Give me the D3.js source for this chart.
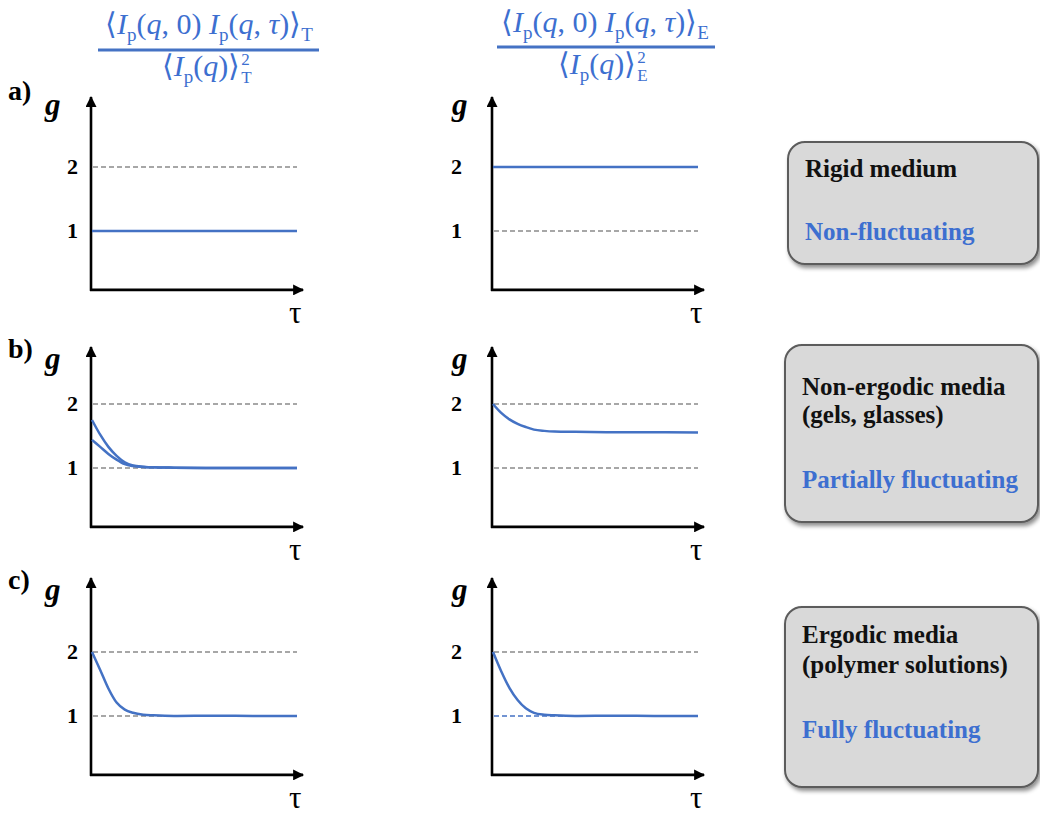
<!DOCTYPE html>
<html><head><meta charset="utf-8">
<script src="https://cdn.jsdelivr.net/npm/d3@7"></script>
<style>html,body{margin:0;padding:0;background:#fff;}</style>
</head><body>
<svg id="chart" width="1040" height="819"></svg>
<script>
// ---- data ----
const rowLabels = ["a)", "b)", "c)"];
const levelTicks = [1, 2];
const tau = [0, 0.4, 0.8, 1.2, 1.6, 2.0, 2.5, 3, 4, 6, 8, 10];
// time-averaged column (left)
const gT_rigid = [1, 1, 1, 1, 1, 1, 1, 1, 1, 1, 1, 1];
const gT_nonErgUpper = [1.75, 1.52, 1.33, 1.19, 1.09, 1.04, 1.02, 1.01, 1.005, 1.0, 1.0, 1.0];
const gT_nonErgLower = [1.44, 1.33, 1.22, 1.13, 1.06, 1.03, 1.015, 1.01, 1.005, 1.0, 1.0, 1.0];
const gT_ergodic = [2.0, 1.72, 1.43, 1.21, 1.1, 1.05, 1.02, 1.01, 1.0, 1.005, 1.0, 1.0];
// ensemble-averaged column (right)
const gE_rigid = [2, 2, 2, 2, 2, 2, 2, 2, 2, 2, 2, 2];
const gE_nonErg = [2.0, 1.86, 1.76, 1.69, 1.64, 1.60, 1.58, 1.57, 1.565, 1.56, 1.56, 1.555];
const gE_ergodic = [2.0, 1.7, 1.44, 1.25, 1.12, 1.05, 1.02, 1.01, 1.0, 1.005, 1.0, 1.0];
const boxTitles = [["Rigid medium"], ["Non-ergodic media", "(gels, glasses)"], ["Ergodic media", "(polymer solutions)"]];
const boxStates = ["Non-fluctuating", "Partially fluctuating", "Fully fluctuating"];

// ---- layout ----
const BLUE = "#4472c4";
const TXTBLUE = "#3d6fd0";
const SERIF = "'Liberation Serif','Times New Roman',serif";
const colX = [91, 492];
const rowY1 = [231, 468, 716];      // pixel of g = 1
const rowTop = [97, 347, 578];
const unit = 64;
const panelW = 206;

const svg = d3.select("#chart");
const defs = svg.append("defs");
defs.append("marker").attr("id", "arr").attr("viewBox", "0 0 10 10")
  .attr("refX", 9).attr("refY", 5).attr("markerWidth", 12).attr("markerHeight", 11)
  .attr("markerUnits", "userSpaceOnUse").attr("orient", "auto")
  .append("path").attr("d", "M0,0 L10,5 L0,10 z").attr("fill", "#000");
const f = defs.append("filter").attr("id", "shadow").attr("x", "-10%").attr("y", "-10%").attr("width", "130%").attr("height", "130%");
f.append("feDropShadow").attr("dx", 2).attr("dy", 3).attr("stdDeviation", 2).attr("flood-color", "#000").attr("flood-opacity", 0.45);

const panels = [
  {r: 0, c: 0, series: [gT_rigid]},
  {r: 0, c: 1, series: [gE_rigid]},
  {r: 1, c: 0, series: [gT_nonErgUpper, gT_nonErgLower]},
  {r: 1, c: 1, series: [gE_nonErg]},
  {r: 2, c: 0, series: [gT_ergodic]},
  {r: 2, c: 1, series: [gE_ergodic], blueOne: true},
];

panels.forEach(p => {
  const ax = colX[p.c];
  const y1 = rowY1[p.r];
  const x = d3.scaleLinear().domain([0, 10]).range([ax + 1, ax + panelW]);
  const y = d3.scaleLinear().domain([1, 2]).range([y1, y1 - unit]);
  const yBottom = y(0.08);
  const g = svg.append("g");

  // dashed reference levels
  g.selectAll("line.lvl").data(levelTicks).join("line")
    .attr("x1", ax + 2).attr("x2", ax + panelW)
    .attr("y1", d => y(d)).attr("y2", d => y(d))
    .attr("stroke", d => (p.blueOne && d === 1) ? BLUE : "#8a8a8a")
    .attr("stroke-width", 1.5).attr("stroke-dasharray", "5,3");

  // tick labels
  const lx = p.c === 0 ? ax - 13 : ax - 30;
  g.selectAll("text.tk").data(levelTicks).join("text")
    .attr("x", lx).attr("y", d => y(d) + 7).attr("text-anchor", "end")
    .attr("font-family", SERIF).attr("font-weight", "bold").attr("font-size", 22)
    .text(d => d);

  // axes
  g.append("line").attr("x1", ax).attr("y1", yBottom + 1).attr("x2", ax).attr("y2", rowTop[p.r])
    .attr("stroke", "#000").attr("stroke-width", 2.6).attr("marker-end", "url(#arr)");
  g.append("line").attr("x1", ax - 1).attr("y1", yBottom).attr("x2", ax + panelW + 6).attr("y2", yBottom)
    .attr("stroke", "#000").attr("stroke-width", 2.6).attr("marker-end", "url(#arr)");

  // curves
  const line = d3.line().x((d, i) => x(tau[i])).y(d => y(d)).curve(d3.curveMonotoneX);
  p.series.forEach(s => {
    g.append("path").attr("d", line(s)).attr("fill", "none")
      .attr("stroke", BLUE).attr("stroke-width", 2.5);
  });

  // axis labels
  g.append("text").attr("x", p.c === 0 ? ax - 46 : ax - 40).attr("y", rowTop[p.r] + 18 + (p.r === 0 ? 0 : 4))
    .attr("font-family", SERIF).attr("font-style", "italic").attr("font-weight", "bold")
    .attr("font-size", 31).text("g");
  g.append("text").attr("x", ax + panelW - 8).attr("y", yBottom + 33)
    .attr("font-family", SERIF).attr("font-size", 31).text("τ");
});

// row labels
svg.selectAll("text.row").data(rowLabels).join("text")
  .attr("x", 8).attr("y", (d, i) => rowTop[i] + (i === 0 ? 3 : 11))
  .attr("font-family", SERIF).attr("font-weight", "bold").attr("font-size", 28)
  .text(d => d);

// header formulas
function formula(cx, sub, numBase, barX1, barX2, barY, denBase) {
  const B = 30, S = 19;
  const hg = svg.append("g").attr("fill", TXTBLUE).attr("font-family", SERIF);
  const t = hg.append("text").attr("x", cx).attr("y", numBase).attr("text-anchor", "middle").attr("font-size", B);
  const parts = [
    ["⟨", "normal", 0, B], ["I", "italic", 0, B], ["p", "normal", 7, S], ["(", "normal", -7, B],
    ["q", "italic", 0, B], [", 0) ", "normal", 0, B], ["I", "italic", 0, B], ["p", "normal", 7, S],
    ["(", "normal", -7, B], ["q", "italic", 0, B], [", ", "normal", 0, B], ["τ", "italic", 0, B],
    [")⟩", "normal", 0, B], [sub, "normal", 7, S]
  ];
  parts.forEach(([s, st, dy, fs]) => t.append("tspan").attr("dy", dy).attr("font-style", st).attr("font-size", fs).text(s));
  hg.append("line").attr("x1", barX1).attr("x2", barX2).attr("y1", barY).attr("y2", barY)
    .attr("stroke", BLUE).attr("stroke-width", 3);
  const d = hg.append("text").attr("x", cx - 8).attr("y", denBase).attr("text-anchor", "middle").attr("font-size", B);
  [["⟨", "normal", 0, B], ["I", "italic", 0, B], ["p", "normal", 7, S], ["(", "normal", -7, B],
   ["q", "italic", 0, B], [")⟩", "normal", 0, B]]
    .forEach(([s, st, dy, fs]) => d.append("tspan").attr("dy", dy).attr("font-style", st).attr("font-size", fs).text(s));
  const bb = d.node().getBBox();
  hg.append("text").attr("x", bb.x + bb.width + 1).attr("y", denBase - 11).attr("font-size", 17).text("2");
  hg.append("text").attr("x", bb.x + bb.width + 1).attr("y", denBase + 7).attr("font-size", 17).text(sub);
}
formula(209, "T", 34, 98, 319, 50, 76);
formula(605, "E", 32, 497, 715, 47, 74);

// description boxes
const boxes = [
  {x: 788, y: 142, w: 250, h: 122, lines: [177], state: 240},
  {x: 785, y: 345, w: 253, h: 177, lines: [395, 423], state: 488},
  {x: 785, y: 607, w: 253, h: 180, lines: [643, 673], state: 738},
];
boxes.forEach((b, i) => {
  const bg = svg.append("g");
  bg.append("rect").attr("x", b.x).attr("y", b.y).attr("width", b.w).attr("height", b.h)
    .attr("rx", 17).attr("fill", "#d9d9d9").attr("stroke", "#5c5c5c").attr("stroke-width", 2)
    .attr("filter", "url(#shadow)");
  boxTitles[i].forEach((s, j) => bg.append("text").attr("x", b.x + 17).attr("y", b.lines[j])
    .attr("font-family", SERIF).attr("font-weight", "bold").attr("font-size", 25).attr("fill", "#111").text(s));
  bg.append("text").attr("x", b.x + 17).attr("y", b.state)
    .attr("font-family", SERIF).attr("font-weight", "bold").attr("font-size", 25).attr("fill", TXTBLUE).text(boxStates[i]);
});
</script>
</body></html>
